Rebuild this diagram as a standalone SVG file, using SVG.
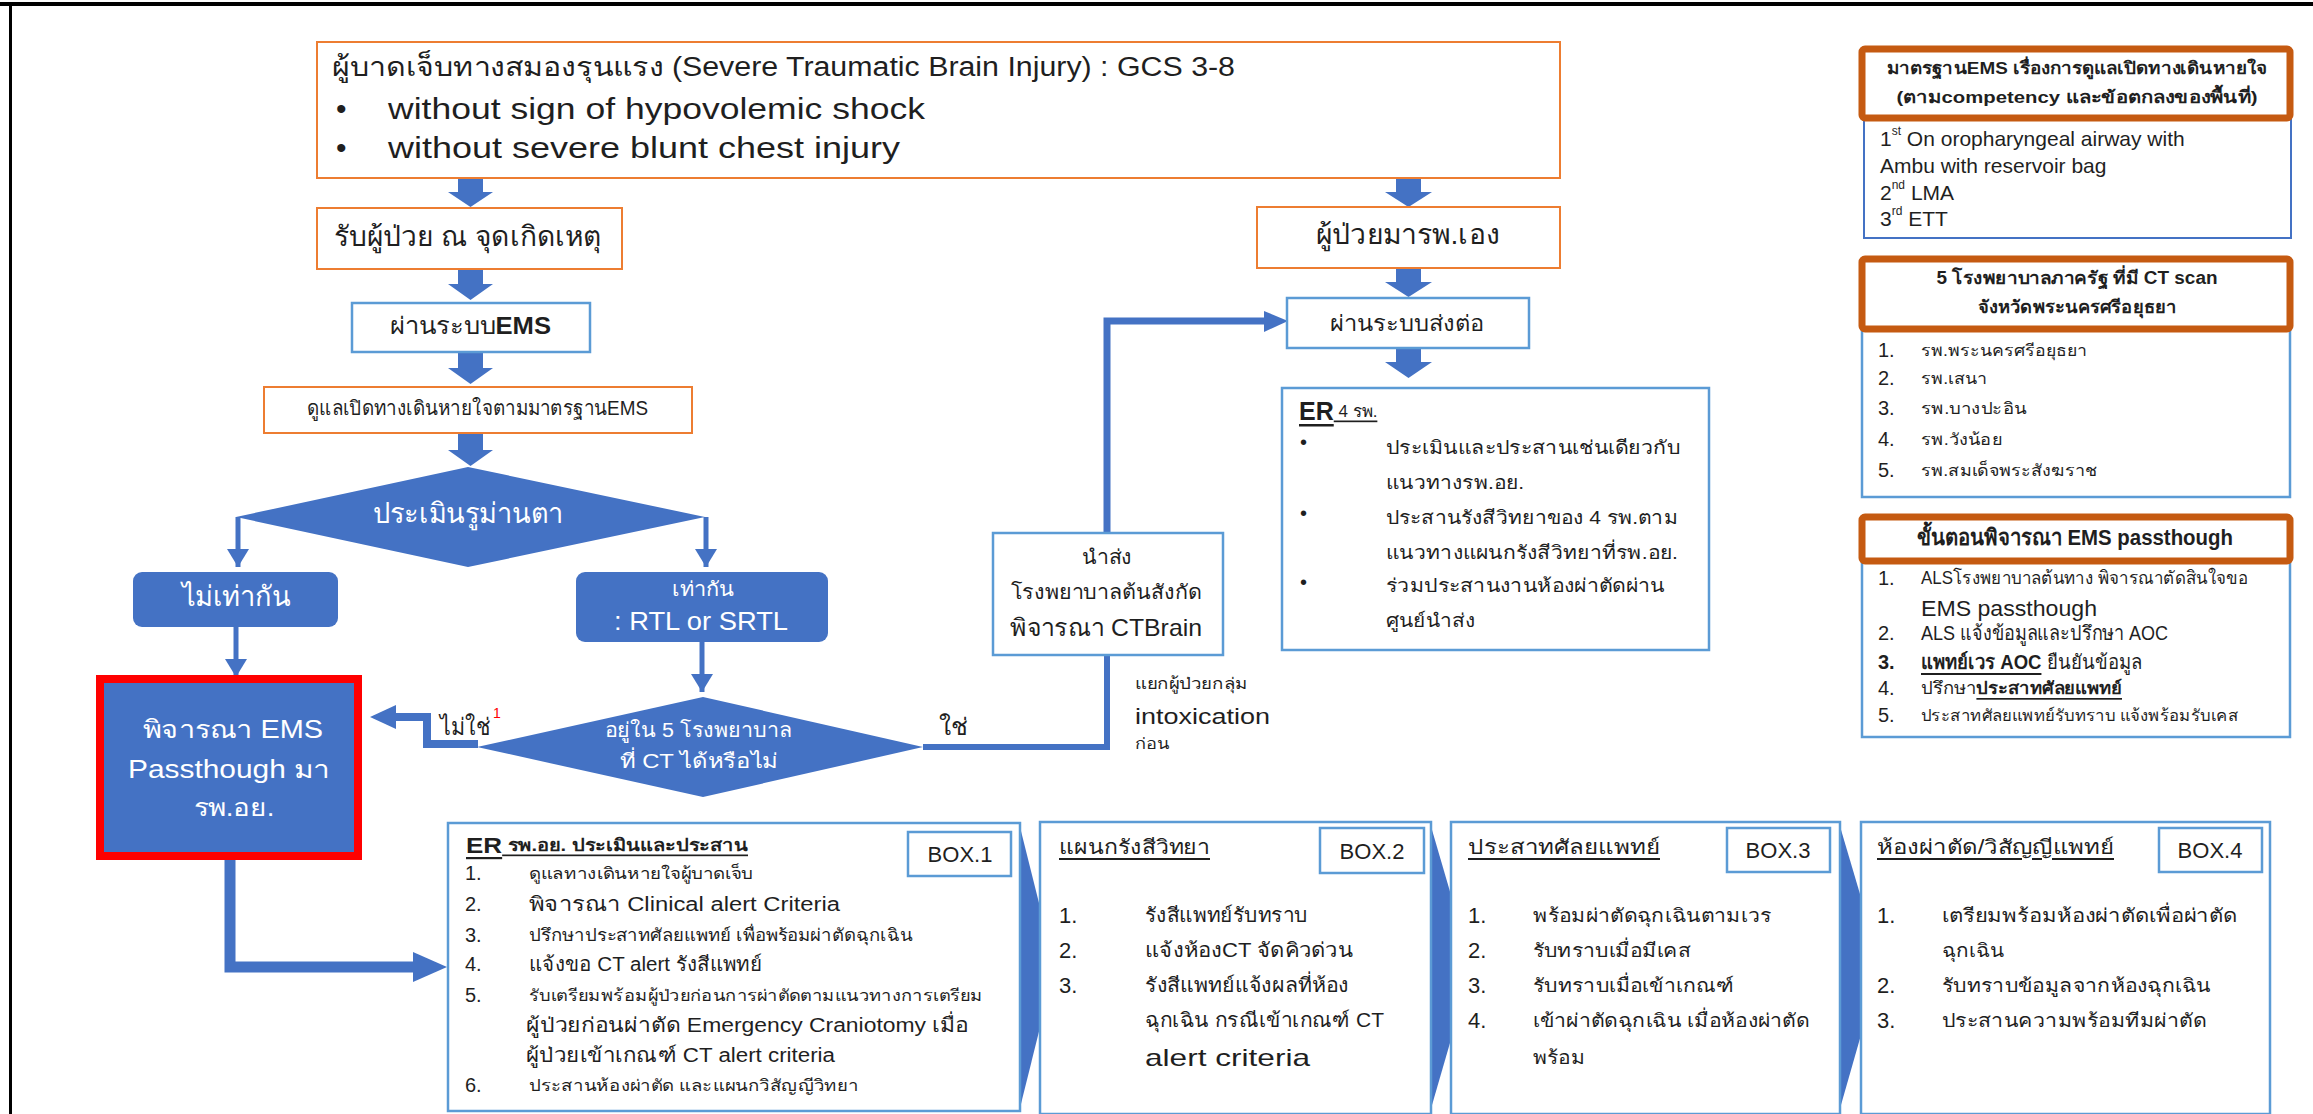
<svg xmlns="http://www.w3.org/2000/svg" width="2313" height="1114" viewBox="0 0 2313 1114">
<style>
text{font-family:"Liberation Sans","Noto Sans","DejaVu Sans",sans-serif;fill:#1f1f1f;dominant-baseline:central}
.w{fill:#fff}
.b{font-weight:bold}
.u{text-decoration:underline}
.ob{fill:#fff;stroke:#ED7D31;stroke-width:2}
.bb{fill:#fff;stroke:#5B9BD5;stroke-width:2.5}
.db{fill:#fff;stroke:#4472C4;stroke-width:2}
.hb{fill:#fff;stroke:#C55A11;stroke-width:7}
.fl{fill:#4472C4}
.ln{stroke:#4472C4;fill:none}
.mid{text-anchor:middle}
</style>
<defs>
<marker id="ah" markerUnits="userSpaceOnUse" markerWidth="22" markerHeight="22" refX="18" refY="11" orient="auto"><path d="M0,0 L18,11 L0,22 Z" fill="#4472C4"/></marker>
</defs>
<rect width="2313" height="1114" fill="#fff"/>
<g id="frame">
<line x1="0" y1="4" x2="2313" y2="4" stroke="#000" stroke-width="4"/>
<line x1="10.5" y1="4" x2="10.5" y2="1114" stroke="#000" stroke-width="3"/>
</g>

<g id="connectors">
<polygon class="fl" points="458,178 483,178 483,192 493,192 470.5,207 448,192 458,192"/>
<polygon class="fl" points="458,269 483,269 483,284 493,284 470.5,300 448,284 458,284"/>
<polygon class="fl" points="458,352 483,352 483,368 493,368 470.5,384 448,368 458,368"/>
<polygon class="fl" points="458,433 483,433 483,450 493,450 470.5,466 448,450 458,450"/>
<polygon class="fl" points="1396,178 1421,178 1421,192 1432,192 1408.5,207 1385,192 1396,192"/>
<polygon class="fl" points="1396,268 1421,268 1421,282 1432,282 1408.5,297 1385,282 1396,282"/>
<polygon class="fl" points="1396,348 1421,348 1421,362 1432,362 1408.5,378 1385,362 1396,362"/>
<path class="ln" d="M238,517 V567" stroke-width="5" marker-end="url(#ah)"/>
<path class="ln" d="M706,517 V567" stroke-width="5" marker-end="url(#ah)"/>
<path class="ln" d="M236,627 V677" stroke-width="5" marker-end="url(#ah)"/>
<path class="ln" d="M702,642 V692" stroke-width="5" marker-end="url(#ah)"/>
<path class="ln" d="M923,747 H1107 V655" stroke-width="6"/>
<path class="ln" d="M1107,533 V321 H1266" stroke-width="7"/>
<polygon class="fl" points="1264,311 1288,321 1264,332"/>
<path class="ln" d="M478,744 H427 V717 H394" stroke-width="8"/>
<polygon class="fl" points="396,705 370,717 396,729"/>
<path class="ln" d="M230,860 V967 H415" stroke-width="11"/>
<polygon class="fl" points="413,952 447,967 413,982"/>
<polygon class="fl" points="1019,823 1055,967 1019,1112"/>
<polygon class="fl" points="1430,823 1472,967 1430,1112"/>
<polygon class="fl" points="1839,823 1881,965 1839,1112"/>
</g>

<g id="n-top">
<rect class="ob" x="317" y="42" width="1243" height="136"/>
<text x="332" y="67" font-size="27" textLength="903" lengthAdjust="spacingAndGlyphs">ผู้บาดเจ็บทางสมองรุนแรง (Severe Traumatic Brain Injury) : GCS 3-8</text>
<text x="336" y="108" font-size="30">•</text>
<text x="388" y="108" font-size="30" textLength="537" lengthAdjust="spacingAndGlyphs">without sign of hypovolemic shock</text>
<text x="336" y="147" font-size="30">•</text>
<text x="388" y="147" font-size="30" textLength="512" lengthAdjust="spacingAndGlyphs">without severe blunt chest injury</text>
</g>
<g id="n-scene">
<rect class="ob" x="317" y="208" width="305" height="61"/>
<text x="334" y="236" font-size="28" textLength="267" lengthAdjust="spacingAndGlyphs">รับผู้ป่วย ณ จุดเกิดเหตุ</text>
</g>
<g id="n-ems">
<rect class="bb" x="352" y="303" width="238" height="49"/>
<text x="390" y="325" font-size="24" textLength="161" lengthAdjust="spacingAndGlyphs">ผ่านระบบ<tspan class="b">EMS</tspan></text>
</g>
<g id="n-airway">
<rect class="ob" x="264" y="387" width="428" height="46"/>
<text x="307" y="408" font-size="20" textLength="341" lengthAdjust="spacingAndGlyphs">ดูแลเปิดทางเดินหายใจตามมาตรฐานEMS</text>
</g>
<g id="n-pupil">
<polygon class="fl" points="468,467 705,517 468,567 236,517"/>
<text class="w mid" x="468" y="513" font-size="28" textLength="191" lengthAdjust="spacingAndGlyphs">ประเมินรูม่านตา</text>
</g>
<g id="n-unequal">
<rect class="fl" x="133" y="572" width="205" height="55" rx="9"/>
<text class="w mid" x="236" y="596" font-size="28" textLength="109" lengthAdjust="spacingAndGlyphs">ไม่เท่ากัน</text>
</g>
<g id="n-equal">
<rect class="fl" x="576" y="572" width="252" height="70" rx="9"/>
<text class="w mid" x="703" y="589" font-size="20" textLength="62" lengthAdjust="spacingAndGlyphs">เท่ากัน</text>
<text class="w mid" x="701" y="621" font-size="26" textLength="174" lengthAdjust="spacingAndGlyphs">: RTL or SRTL</text>
</g>
<g id="n-passthrough">
<rect x="100" y="679" width="258" height="177" fill="#4472C4" stroke="#FF0000" stroke-width="8"/>
<text class="w mid" x="233" y="729" font-size="25" textLength="180" lengthAdjust="spacingAndGlyphs">พิจารณา EMS</text>
<text class="w mid" x="229" y="769" font-size="25" textLength="202" lengthAdjust="spacingAndGlyphs">Passthough มา</text>
<text class="w mid" x="234" y="807" font-size="25" textLength="81" lengthAdjust="spacingAndGlyphs">รพ.อย.</text>
</g>
<g id="n-ct5">
<polygon class="fl" points="703,697 923,747 703,797 477,747"/>
<text class="w mid" x="698" y="730" font-size="20" textLength="187" lengthAdjust="spacingAndGlyphs">อยู่ใน 5 โรงพยาบาล</text>
<text class="w mid" x="699" y="761" font-size="20" textLength="158" lengthAdjust="spacingAndGlyphs">ที่ CT ได้หรือไม่</text>
</g>
<g id="labels">
<text x="440" y="726" font-size="24" textLength="50" lengthAdjust="spacingAndGlyphs">ไม่ใช่</text>
<text x="493" y="713" font-size="14" style="fill:#FF0000">1</text>
<text x="939" y="726" font-size="24" textLength="29" lengthAdjust="spacingAndGlyphs">ใช่</text>
<text x="1135" y="683" font-size="16" textLength="113" lengthAdjust="spacingAndGlyphs">แยกผู้ป่วยกลุ่ม</text>
<text x="1135" y="716" font-size="22" textLength="135" lengthAdjust="spacingAndGlyphs">intoxication</text>
<text x="1135" y="743" font-size="15" textLength="34" lengthAdjust="spacingAndGlyphs">ก่อน</text>
</g>
<g id="n-ctbrain">
<rect class="bb" x="993" y="533" width="230" height="122"/>
<text class="mid" x="1107" y="557" font-size="20" textLength="50" lengthAdjust="spacingAndGlyphs">นำส่ง</text>
<text class="mid" x="1106" y="592" font-size="20" textLength="191" lengthAdjust="spacingAndGlyphs">โรงพยาบาลต้นสังกัด</text>
<text class="mid" x="1106" y="627" font-size="24" textLength="192" lengthAdjust="spacingAndGlyphs">พิจารณา CTBrain</text>
</g>
<g id="n-self">
<rect class="ob" x="1257" y="207" width="303" height="61"/>
<text class="mid" x="1408" y="234" font-size="28" textLength="184" lengthAdjust="spacingAndGlyphs">ผู้ป่วยมารพ.เอง</text>
</g>
<g id="n-refer">
<rect class="bb" x="1287" y="298" width="242" height="50"/>
<text class="mid" x="1407" y="323" font-size="22" textLength="154" lengthAdjust="spacingAndGlyphs">ผ่านระบบส่งต่อ</text>
</g>
<g id="n-er4">
<rect class="bb" x="1282" y="388" width="427" height="262"/>
<text class="u" x="1299" y="411" font-size="17"><tspan class="b" font-size="25">ER</tspan> 4 รพ.</text>
<text x="1300" y="442" font-size="20">•</text>
<text x="1300" y="513" font-size="20">•</text>
<text x="1300" y="582" font-size="20">•</text>
<text x="1386" y="447" font-size="19" textLength="294" lengthAdjust="spacingAndGlyphs">ประเมินและประสานเช่นเดียวกับ</text>
<text x="1386" y="482" font-size="19" textLength="138" lengthAdjust="spacingAndGlyphs">แนวทางรพ.อย.</text>
<text x="1386" y="517" font-size="19" textLength="292" lengthAdjust="spacingAndGlyphs">ประสานรังสีวิทยาของ 4 รพ.ตาม</text>
<text x="1386" y="552" font-size="19" textLength="292" lengthAdjust="spacingAndGlyphs">แนวทางแผนกรังสีวิทยาที่รพ.อย.</text>
<text x="1386" y="585" font-size="19" textLength="279" lengthAdjust="spacingAndGlyphs">ร่วมประสานงานห้องผ่าตัดผ่าน</text>
<text x="1386" y="620" font-size="19" textLength="89" lengthAdjust="spacingAndGlyphs">ศูนย์นำส่ง</text>
</g>

<g id="p-airway">
<rect class="db" x="1864" y="118" width="427" height="120"/>
<rect class="hb" x="1862" y="49" width="428" height="69" rx="3"/>
<text class="b mid" x="2077" y="68" font-size="17" textLength="380" lengthAdjust="spacingAndGlyphs">มาตรฐานEMS เรื่องการดูแลเปิดทางเดินหายใจ</text>
<text class="b mid" x="2077" y="97" font-size="17" textLength="361" lengthAdjust="spacingAndGlyphs">(ตามcompetency และข้อตกลงของพื้นที่)</text>
<text x="1880" y="138" font-size="21">1<tspan font-size="12" dy="-7">st</tspan><tspan dy="7"> On oropharyngeal airway with</tspan></text>
<text x="1880" y="165" font-size="21">Ambu with reservoir bag</text>
<text x="1880" y="192" font-size="21">2<tspan font-size="12" dy="-7">nd</tspan><tspan dy="7"> LMA</tspan></text>
<text x="1880" y="218" font-size="21">3<tspan font-size="12" dy="-7">rd</tspan><tspan dy="7"> ETT</tspan></text>
</g>
<g id="p-hospitals">
<rect class="bb" x="1862" y="330" width="428" height="167"/>
<rect class="hb" x="1862" y="259" width="428" height="70" rx="3"/>
<text class="b mid" x="2077" y="278" font-size="18" textLength="281" lengthAdjust="spacingAndGlyphs">5 โรงพยาบาลภาครัฐ ที่มี CT scan</text>
<text class="b mid" x="2077" y="307" font-size="18" textLength="199" lengthAdjust="spacingAndGlyphs">จังหวัดพระนครศรีอยุธยา</text>
<text x="1878" y="350" font-size="20">1.</text><text x="1921" y="350" font-size="16" textLength="166" lengthAdjust="spacingAndGlyphs">รพ.พระนครศรีอยุธยา</text>
<text x="1878" y="378" font-size="20">2.</text><text x="1921" y="378" font-size="16" textLength="66" lengthAdjust="spacingAndGlyphs">รพ.เสนา</text>
<text x="1878" y="408" font-size="20">3.</text><text x="1921" y="408" font-size="16" textLength="106" lengthAdjust="spacingAndGlyphs">รพ.บางปะอิน</text>
<text x="1878" y="439" font-size="20">4.</text><text x="1921" y="439" font-size="16" textLength="81" lengthAdjust="spacingAndGlyphs">รพ.วังน้อย</text>
<text x="1878" y="470" font-size="20">5.</text><text x="1921" y="470" font-size="16" textLength="176" lengthAdjust="spacingAndGlyphs">รพ.สมเด็จพระสังฆราช</text>
</g>
<g id="p-steps">
<rect class="bb" x="1862" y="561" width="428" height="176"/>
<rect class="hb" x="1862" y="517" width="428" height="44" rx="3"/>
<text class="b mid" x="2075" y="537" font-size="22" textLength="316" lengthAdjust="spacingAndGlyphs">ขั้นตอนพิจารณา EMS passthough</text>
<text x="1878" y="578" font-size="20">1.</text><text x="1921" y="578" font-size="18" textLength="327" lengthAdjust="spacingAndGlyphs">ALSโรงพยาบาลต้นทาง พิจารณาตัดสินใจขอ</text>
<text x="1921" y="608" font-size="22" textLength="176" lengthAdjust="spacingAndGlyphs">EMS passthough</text>
<text x="1878" y="633" font-size="20">2.</text><text x="1921" y="633" font-size="20" textLength="247" lengthAdjust="spacingAndGlyphs">ALS แจ้งข้อมูลและปรึกษา AOC</text>
<text class="b" x="1878" y="662" font-size="20">3.</text><text x="1921" y="662" font-size="20" textLength="221" lengthAdjust="spacingAndGlyphs"><tspan class="b u">แพทย์เวร AOC</tspan> ยืนยันข้อมูล</text>
<text x="1878" y="688" font-size="20">4.</text><text x="1921" y="688" font-size="17" textLength="201" lengthAdjust="spacingAndGlyphs">ปรึกษา<tspan class="b u">ประสาทศัลยแพทย์</tspan></text>
<text x="1878" y="715" font-size="20">5.</text><text x="1921" y="715" font-size="16" textLength="317" lengthAdjust="spacingAndGlyphs">ประสาทศัลยแพทย์รับทราบ แจ้งพร้อมรับเคส</text>
</g>

<g id="box1">
<rect class="bb" x="448" y="823" width="572" height="288"/>
<rect class="bb" x="908" y="832" width="103" height="44"/>
<text class="mid" x="960" y="854" font-size="22">BOX.1</text>
<text class="b u" x="466" y="845" font-size="17" textLength="282" lengthAdjust="spacingAndGlyphs"><tspan font-size="22">ER</tspan> รพ.อย. ประเมินและประสาน</text>
<text x="465" y="873" font-size="20">1.</text><text x="529" y="873" font-size="16" textLength="224" lengthAdjust="spacingAndGlyphs">ดูแลทางเดินหายใจผู้บาดเจ็บ</text>
<text x="465" y="904" font-size="20">2.</text><text x="529" y="904" font-size="20" textLength="311" lengthAdjust="spacingAndGlyphs">พิจารณา Clinical alert Criteria</text>
<text x="465" y="935" font-size="20">3.</text><text x="529" y="935" font-size="17" textLength="384" lengthAdjust="spacingAndGlyphs">ปรึกษาประสาทศัลยแพทย์ เพื่อพร้อมผ่าตัดฉุกเฉิน</text>
<text x="465" y="964" font-size="20">4.</text><text x="529" y="964" font-size="20" textLength="233" lengthAdjust="spacingAndGlyphs">แจ้งขอ CT alert รังสีแพทย์</text>
<text x="465" y="995" font-size="20">5.</text><text x="529" y="995" font-size="16" textLength="454" lengthAdjust="spacingAndGlyphs">รับเตรียมพร้อมผู้ป่วยก่อนการผ่าตัดตามแนวทางการเตรียม</text>
<text x="526" y="1025" font-size="20" textLength="443" lengthAdjust="spacingAndGlyphs">ผู้ป่วยก่อนผ่าตัด Emergency Craniotomy เมื่อ</text>
<text x="526" y="1055" font-size="20" textLength="309" lengthAdjust="spacingAndGlyphs">ผู้ป่วยเข้าเกณฑ์ CT alert criteria</text>
<text x="465" y="1085" font-size="20">6.</text><text x="529" y="1085" font-size="16" textLength="329" lengthAdjust="spacingAndGlyphs">ประสานห้องผ่าตัด และแผนกวิสัญญีวิทยา</text>
</g>
<g id="box2">
<rect class="bb" x="1040" y="822" width="391" height="292"/>
<rect class="bb" x="1320" y="828" width="104" height="45"/>
<text class="mid" x="1372" y="851" font-size="22">BOX.2</text>
<text class="u" x="1059" y="847" font-size="20" textLength="151" lengthAdjust="spacingAndGlyphs">แผนกรังสีวิทยา</text>
<text x="1059" y="915" font-size="22">1.</text><text x="1145" y="915" font-size="20" textLength="163" lengthAdjust="spacingAndGlyphs">รังสีแพทย์รับทราบ</text>
<text x="1059" y="950" font-size="22">2.</text><text x="1145" y="950" font-size="20" textLength="208" lengthAdjust="spacingAndGlyphs">แจ้งห้องCT จัดคิวด่วน</text>
<text x="1059" y="985" font-size="22">3.</text><text x="1145" y="985" font-size="20" textLength="204" lengthAdjust="spacingAndGlyphs">รังสีแพทย์แจ้งผลที่ห้อง</text>
<text x="1145" y="1020" font-size="20" textLength="239" lengthAdjust="spacingAndGlyphs">ฉุกเฉิน กรณีเข้าเกณฑ์ CT</text>
<text x="1145" y="1057" font-size="24" textLength="165" lengthAdjust="spacingAndGlyphs">alert criteria</text>
</g>
<g id="box3">
<rect class="bb" x="1451" y="822" width="389" height="292"/>
<rect class="bb" x="1727" y="828" width="103" height="44"/>
<text class="mid" x="1778" y="850" font-size="22">BOX.3</text>
<text class="u" x="1468" y="847" font-size="20" textLength="192" lengthAdjust="spacingAndGlyphs">ประสาทศัลยแพทย์</text>
<text x="1468" y="915" font-size="22">1.</text><text x="1533" y="915" font-size="19" textLength="238" lengthAdjust="spacingAndGlyphs">พร้อมผ่าตัดฉุกเฉินตามเวร</text>
<text x="1468" y="950" font-size="22">2.</text><text x="1533" y="950" font-size="19" textLength="158" lengthAdjust="spacingAndGlyphs">รับทราบเมื่อมีเคส</text>
<text x="1468" y="985" font-size="22">3.</text><text x="1533" y="985" font-size="19" textLength="201" lengthAdjust="spacingAndGlyphs">รับทราบเมื่อเข้าเกณฑ์</text>
<text x="1468" y="1020" font-size="22">4.</text><text x="1533" y="1020" font-size="19" textLength="276" lengthAdjust="spacingAndGlyphs">เข้าผ่าตัดฉุกเฉิน เมื่อห้องผ่าตัด</text>
<text x="1533" y="1057" font-size="19" textLength="52" lengthAdjust="spacingAndGlyphs">พร้อม</text>
</g>
<g id="box4">
<rect class="bb" x="1861" y="822" width="409" height="292"/>
<rect class="bb" x="2159" y="828" width="103" height="44"/>
<text class="mid" x="2210" y="850" font-size="22">BOX.4</text>
<text class="u" x="1877" y="847" font-size="20" textLength="237" lengthAdjust="spacingAndGlyphs">ห้องผ่าตัด/วิสัญญีแพทย์</text>
<text x="1877" y="915" font-size="22">1.</text><text x="1942" y="915" font-size="19" textLength="295" lengthAdjust="spacingAndGlyphs">เตรียมพร้อมห้องผ่าตัดเพื่อผ่าตัด</text>
<text x="1942" y="950" font-size="19" textLength="62" lengthAdjust="spacingAndGlyphs">ฉุกเฉิน</text>
<text x="1877" y="985" font-size="22">2.</text><text x="1942" y="985" font-size="19" textLength="269" lengthAdjust="spacingAndGlyphs">รับทราบข้อมูลจากห้องฉุกเฉิน</text>
<text x="1877" y="1020" font-size="22">3.</text><text x="1942" y="1020" font-size="19" textLength="264" lengthAdjust="spacingAndGlyphs">ประสานความพร้อมทีมผ่าตัด</text>
</g>
</svg>
